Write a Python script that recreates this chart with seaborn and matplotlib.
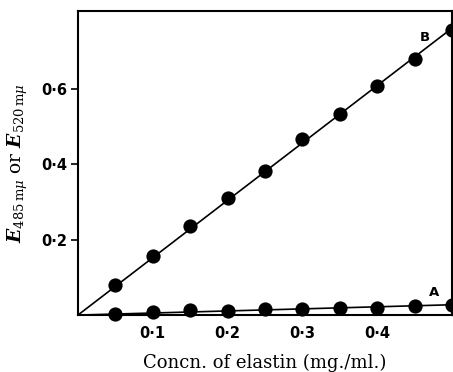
import numpy as np
import pandas as pd
import matplotlib
matplotlib.use("Agg")
import matplotlib.pyplot as plt
import seaborn as sns

# Elastin concentration (mg./ml.) and extinctions for the two curves
conc = [0.05, 0.10, 0.15, 0.20, 0.25, 0.30, 0.35, 0.40, 0.45, 0.50]
ext_b = [0.079, 0.156, 0.237, 0.309, 0.381, 0.466, 0.532, 0.607, 0.677, 0.755]
ext_a = [0.002, 0.007, 0.013, 0.011, 0.015, 0.015, 0.018, 0.020, 0.025, 0.028]

x_ticks = [0.1, 0.2, 0.3, 0.4]
x_tick_labels = ["0·1", "0·2", "0·3", "0·4"]
y_ticks = [0.2, 0.4, 0.6]
y_tick_labels = ["0·2", "0·4", "0·6"]

sns.set_theme(style="ticks")
plt.rcParams.update({
    "mathtext.fontset": "dejavuserif",
    "text.color": "black",
    "axes.labelcolor": "black",
    "xtick.color": "black",
    "ytick.color": "black",
})

df = pd.DataFrame({"conc": conc * 2,
                   "ext": ext_b + ext_a,
                   "curve": ["B"] * len(conc) + ["A"] * len(conc)})

# straight lines through the origin, least-squares slope for each curve
x = np.asarray(conc)
fit_rows = []
for name, y in (("B", np.asarray(ext_b)), ("A", np.asarray(ext_a))):
    slope = (x @ y) / (x @ x)
    for xv in (0.0, 0.5):
        fit_rows.append({"conc": xv, "ext": slope * xv, "curve": name})
fit = pd.DataFrame(fit_rows)

fig = plt.figure(figsize=(4.53, 3.72), dpi=100)
ax = fig.add_axes([0.172, 0.153, 0.826, 0.817])

sns.lineplot(data=fit, x="conc", y="ext", units="curve", estimator=None,
             color="black", lw=1.2, ax=ax, legend=False)
sns.scatterplot(data=df, x="conc", y="ext", color="black", s=105,
                edgecolor="black", linewidth=0, zorder=3, clip_on=False,
                ax=ax, legend=False)

ax.set_xlim(0, 0.5)
ax.set_ylim(0, 0.805)
ax.set_xticks(x_ticks)
ax.set_xticklabels(x_tick_labels, fontweight="bold", fontsize=10.5)
ax.set_yticks(y_ticks)
ax.set_yticklabels(y_tick_labels, fontweight="bold", fontsize=10.5)
ax.tick_params(axis="x", direction="in", length=5, width=1.2, pad=8)
ax.tick_params(axis="y", direction="out", length=5, width=1.2, pad=3)

for side in ax.spines.values():
    side.set_linewidth(1.5)
    side.set_color("black")

ax.set_xlabel("Concn. of elastin (mg./ml.)", family="DejaVu Serif",
              fontsize=13, labelpad=9)
ax.set_ylabel(r"$\mathbfit{E}_{485\,\mathrm{m}\mu}$ or "
              r"$\mathbfit{E}_{520\,\mathrm{m}\mu}$",
              family="DejaVu Serif", fontsize=13.5, labelpad=8)

ax.text(0.463, 0.734, "B", fontsize=9.5, fontweight="bold", ha="center", va="center")
ax.text(0.476, 0.06, "A", fontsize=9.5, fontweight="bold", ha="center", va="center")

fig.savefig("out.png", dpi=100)
